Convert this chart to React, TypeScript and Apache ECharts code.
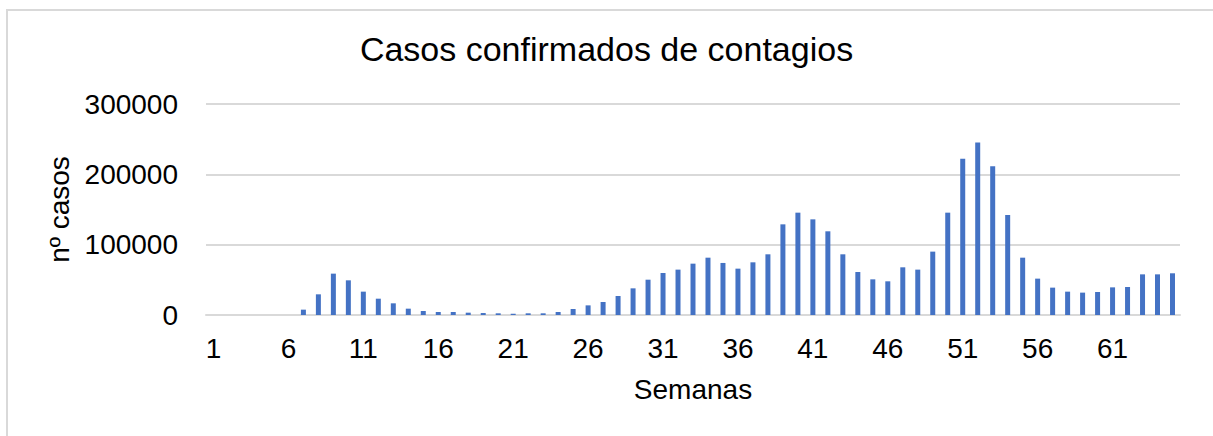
import React, { useEffect, useRef } from "react";
import * as echarts from "echarts";

const weeks: string[] = [
  "1","2","3","4","5","6","7","8","9","10","11","12","13","14","15","16","17","18","19","20",
  "21","22","23","24","25","26","27","28","29","30","31","32","33","34","35","36","37","38","39","40",
  "41","42","43","44","45","46","47","48","49","50","51","52","53","54","55","56","57","58","59","60",
  "61","62","63","64","65",
];

const cases: number[] = [
  0, 0, 0, 0, 0, 0, 7600, 29400, 58800, 49300,
  33200, 23200, 16600, 9000, 5700, 4300, 4300, 3300, 2800, 2400,
  1900, 2400, 2400, 4300, 8500, 13700, 18500, 27000, 37900, 50200,
  59700, 64500, 73000, 81500, 74000, 65900, 74900, 86300, 128900, 145500,
  136000, 119000, 86300, 61100, 50700, 47900, 67800, 64500, 90100, 145500,
  222300, 245100, 211400, 142200, 81500, 51700, 38900, 33200, 31800, 32700,
  39300, 39800, 57800, 57800, 59300,
];

const titleText = "Casos confirmados de contagios";
const xName = "Semanas";
const yName = "nº casos";

export default function App() {
  const ref = useRef<HTMLDivElement>(null);
  useEffect(() => {
    if (!ref.current) return;
    const chart = echarts.init(ref.current, null, { renderer: "svg" });
    const font = "Liberation Sans, Arial, sans-serif";
    chart.setOption({
      animation: false,
      backgroundColor: "#ffffff",
      graphic: [
        {
          type: "rect",
          shape: { x: 7, y: 10, width: 1240, height: 460 },
          style: { fill: "none", stroke: "#d9d9d9", lineWidth: 2 },
          silent: true,
        },
      ],
      title: {
        text: titleText,
        left: "center",
        top: 27,
        textStyle: { fontFamily: font, fontSize: 34, fontWeight: "normal", color: "#000" },
      },
      grid: { left: 206, right: 33, top: 104, bottom: 121 },
      xAxis: {
        type: "category",
        data: weeks,
        name: xName,
        nameLocation: "middle",
        nameGap: 60,
        nameTextStyle: { fontFamily: font, fontSize: 28, color: "#000" },
        axisTick: { show: false },
        axisLine: { lineStyle: { color: "#d9d9d9", width: 2 } },
        axisLabel: { interval: 4, margin: 19, fontFamily: font, fontSize: 28, color: "#000" },
      },
      yAxis: {
        type: "value",
        min: 0,
        max: 300000,
        interval: 100000,
        name: yName,
        nameLocation: "middle",
        nameGap: 120,
        nameTextStyle: { fontFamily: font, fontSize: 28, color: "#000" },
        axisLine: { show: false },
        axisTick: { show: false },
        splitLine: { lineStyle: { color: "#d9d9d9", width: 2 } },
        axisLabel: {
          margin: 28,
          fontFamily: font,
          fontSize: 28,
          color: "#000",
          formatter: (v: number) => String(v),
        },
      },
      series: [
        {
          type: "bar",
          data: cases,
          barWidth: 5,
          itemStyle: { color: "#4472C4" },
        },
      ],
    });
    return () => chart.dispose();
  }, []);
  return (
    <div
      ref={ref}
      style={{ position: "fixed", left: 0, top: 0, width: 1213, height: 436 }}
    />
  );
}
